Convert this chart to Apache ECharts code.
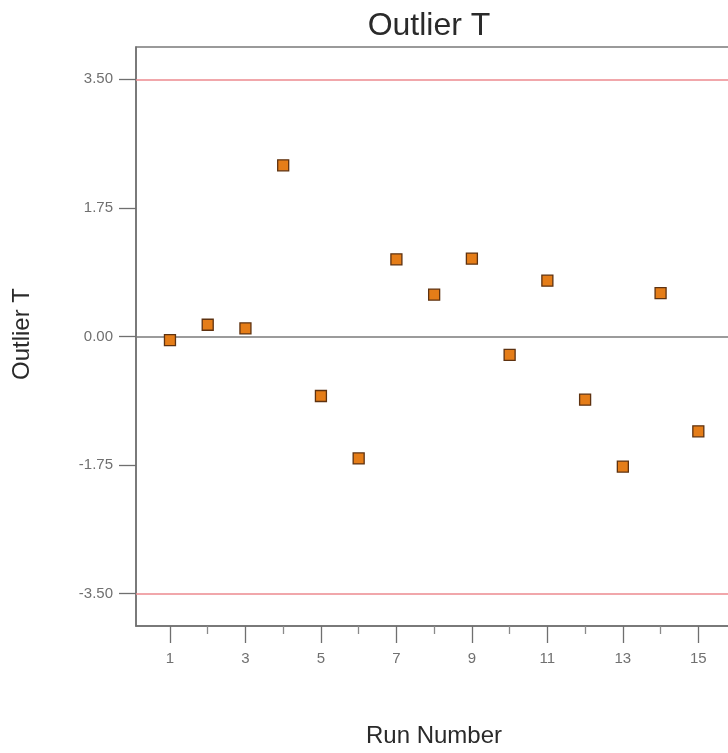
<!DOCTYPE html>
<html>
<head>
<meta charset="utf-8">
<script src="https://cdn.jsdelivr.net/npm/echarts@6/dist/echarts.min.js"></script>
<style>
  html, body { margin: 0; padding: 0; background: #fff; }
  #chart { width: 728px; height: 753px; }
</style>
</head>
<body>
<div id="chart"></div>
<script>
// Run numbers and their externally studentized residuals
const runs = [1, 2, 3, 4, 5, 6, 7, 8, 9, 10, 11, 12, 13, 14, 15];
const outlierT = [-0.05, 0.16, 0.11, 2.33, -0.81, -1.66, 1.05, 0.57, 1.06, -0.25, 0.76, -0.86, -1.77, 0.59, -1.29];

// Axis ticks and limits
const yTicks = [-3.5, -1.75, 0, 1.75, 3.5];
const xMajorTicks = [1, 3, 5, 7, 9, 11, 13, 15];
const xMinorTicks = [2, 4, 6, 8, 10, 12, 14, 16];
const limits = [3.5, -3.5];

const chart = echarts.init(document.getElementById('chart'), null, { renderer: 'canvas' });

// The run axis runs on past the right edge of the page
const xMin = 0.1, xMax = 16.9, pxPerRun = 37.74;
const gridLeft = 136;
const gridRight = 728 - gridLeft - (xMax - xMin) * pxPerRun;
const font = 'Liberation Sans, Arial, sans-serif';

const option = {
  backgroundColor: '#fff',
  animation: false,
  grid: {
    left: gridLeft,
    top: 47,
    right: gridRight,
    bottom: 127,
    outerBoundsMode: 'none',
    containLabel: false,
    show: true,
    borderColor: '#7a7a7a',
    borderWidth: 1.5,
    backgroundColor: 'transparent'
  },
  xAxis: [
    {
      type: 'value',
      min: xMin,
      max: xMax,
      position: 'bottom',
      axisLine: { show: true, onZero: false, lineStyle: { color: '#6f6f6f', width: 1.5 } },
      axisTick: { show: true, customValues: xMajorTicks, length: 17, lineStyle: { color: '#6f6f6f', width: 1.3 } },
      axisLabel: { customValues: xMajorTicks, margin: 25, color: '#707070', fontSize: 15, fontFamily: font },
      splitLine: { show: false }
    },
    {
      type: 'value',
      min: xMin,
      max: xMax,
      position: 'bottom',
      axisLine: { show: false, onZero: false },
      axisTick: { show: true, customValues: xMinorTicks, length: 8, lineStyle: { color: '#8a8a8a', width: 1.3 } },
      axisLabel: { show: false },
      splitLine: { show: false }
    }
  ],
  yAxis: {
    type: 'value',
    min: -3.94,
    max: 3.94,
    axisLine: { show: true, onZero: false, lineStyle: { color: '#6f6f6f', width: 1.5 } },
    axisTick: { show: true, customValues: yTicks, length: 17, lineStyle: { color: '#6f6f6f', width: 1.3 } },
    axisLabel: {
      customValues: yTicks,
      margin: 23,
      color: '#707070',
      fontSize: 15,
      fontFamily: font,
      formatter: v => v.toFixed(2)
    },
    splitLine: { show: false }
  },
  graphic: [
    {
      type: 'text', x: 429, y: 26,
      style: { text: 'Outlier T', fill: '#2a2a2a', font: '32px ' + font, textAlign: 'center', textVerticalAlign: 'middle' }
    },
    {
      type: 'text', x: 434, y: 736,
      style: { text: 'Run Number', fill: '#2a2a2a', font: '24px ' + font, textAlign: 'center', textVerticalAlign: 'middle' }
    },
    {
      type: 'text', x: 22, y: 334, rotation: Math.PI / 2,
      style: { text: 'Outlier T', fill: '#2a2a2a', font: '24px ' + font, textAlign: 'center', textVerticalAlign: 'middle' }
    }
  ],
  series: [
    {
      type: 'scatter',
      xAxisIndex: 0,
      data: runs.map((r, i) => [r, outlierT[i]]),
      symbol: 'rect',
      symbolSize: 11,
      itemStyle: { color: '#e57d18', borderColor: '#5e3210', borderWidth: 1.3, opacity: 1 },
      z: 5,
      markLine: {
        silent: true,
        symbol: 'none',
        label: { show: false },
        animation: false,
        data: [
          { yAxis: 0, lineStyle: { color: '#7a7a7a', width: 1.5, type: 'solid' } },
          ...limits.map(v => ({ yAxis: v, lineStyle: { color: '#ec8a8f', width: 1.5, type: 'solid' } }))
        ]
      }
    }
  ]
};

chart.setOption(option);
</script>
</body>
</html>
